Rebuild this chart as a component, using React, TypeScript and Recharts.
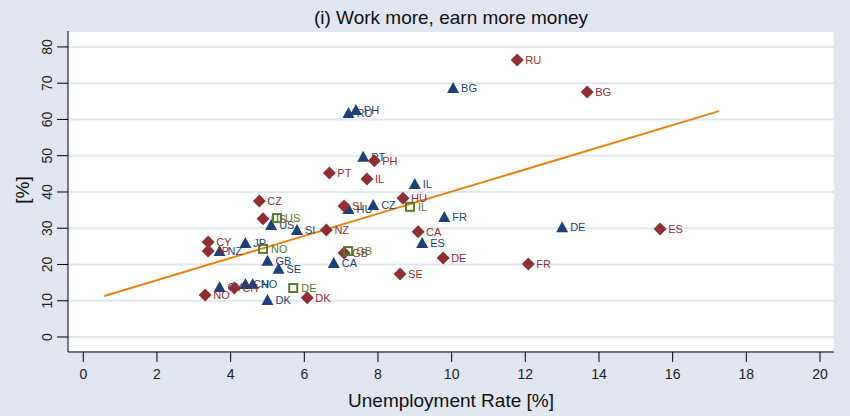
import { ScatterChart, Scatter, XAxis, YAxis, CartesianGrid } from 'recharts'

// navy triangles
const triLabels = ['BG', 'RU', 'PH', 'PT', 'IL', 'CZ', 'HU', 'FR', 'DE', 'ES', 'US', 'SI', 'JP', 'NZ', 'GB', 'SE', 'CA', 'CH', 'NO', 'CY', 'DK']
const triRate = [10.04, 7.2, 7.4, 7.6, 9.0, 7.87, 7.2, 9.8, 13.0, 9.2, 5.1, 5.8, 4.4, 3.7, 5.0, 5.3, 6.8, 4.4, 4.6, 3.7, 5.0]
const triShare = [68.7, 61.8, 62.6, 49.7, 42.2, 36.4, 35.3, 33.1, 30.3, 25.9, 30.9, 29.5, 25.9, 23.7, 21.0, 18.8, 20.4, 14.6, 14.6, 13.8, 10.2]

// maroon diamonds
const diaLabels = ['RU', 'BG', 'PH', 'PT', 'IL', 'HU', 'CZ', 'SI', 'US', 'NZ', 'CY', 'JP', 'GB', 'CA', 'DE', 'SE', 'ES', 'FR', 'NO', 'CH', 'DK']
const diaRate = [11.78, 13.68, 7.9, 6.68, 7.7, 8.68, 4.78, 7.08, 4.88, 6.6, 3.39, 3.39, 7.08, 9.09, 9.77, 8.6, 15.66, 12.08, 3.31, 4.1, 6.08]
const diaShare = [76.4, 67.6, 48.6, 45.2, 43.6, 38.3, 37.5, 36.1, 32.6, 29.5, 26.2, 23.7, 23.2, 29.0, 21.8, 17.4, 29.8, 20.1, 11.6, 13.5, 10.8]

// green hollow squares
const sqLabels = ['US', 'NO', 'GB', 'DE', 'IL']
const sqRate = [5.26, 4.88, 7.19, 5.7, 8.87]
const sqShare = [32.8, 24.3, 23.7, 13.5, 35.9]

// fitted line end points
const fitRate = [0.57, 17.26]
const fitShare = [11.3, 62.3]

const xTicks = [0, 2, 4, 6, 8, 10, 12, 14, 16, 18, 20]
const yTicks = [0, 10, 20, 30, 40, 50, 60, 70, 80]

const build = (labels: string[], xs: number[], ys: number[]) =>
  xs.map((x, i) => ({ x, y: ys[i], label: labels[i] }))

const triData = build(triLabels, triRate, triShare)
const diaData = build(diaLabels, diaRate, diaShare)
const sqData = build(sqLabels, sqRate, sqShare)
const fitData = fitRate.map((x, i) => ({ x, y: fitShare[i] }))

const NAVY = '#1f3f77'
const MAROON = '#8e2f36'
const GREEN = '#557a2e'
const ORANGE = '#e8820c'
const BG = '#e2e6f0'
const FONT = '"Liberation Sans", Arial, sans-serif'

function marker(kind: 'tri' | 'dia' | 'sq', color: string) {
  return (props: any) => {
    const { cx, cy, payload } = props
    let m
    if (kind === 'tri') {
      m = <polygon points={`${cx - 6},${cy + 5} ${cx + 6},${cy + 5} ${cx},${cy - 6}`} fill={color} />
    } else if (kind === 'dia') {
      m = <polygon points={`${cx},${cy - 6.5} ${cx + 6.5},${cy} ${cx},${cy + 6.5} ${cx - 6.5},${cy}`} fill={color} />
    } else {
      m = <rect x={cx - 4} y={cy - 4} width={8} height={8} fill="none" stroke={color} strokeWidth={2} />
    }
    return (
      <g>
        {m}
        <text x={cx + 8} y={cy} dy="0.36em" fontSize={11} fill={color} fontFamily={FONT}>
          {payload.label}
        </text>
      </g>
    )
  }
}

const YTick = (props: any) => {
  const { x, y, payload } = props
  return (
    <text x={x - 3} y={y} transform={`rotate(-90 ${x - 3} ${y})`} textAnchor="middle" fontSize={14} fill="#222" fontFamily={FONT}>
      {payload.value}
    </text>
  )
}

export default function App() {
  return (
    <div style={{ position: 'absolute', left: 0, top: 0, width: 850, height: 416, background: BG }}>
      <ScatterChart width={850} height={416} margin={{ top: 31, right: 16, left: 0, bottom: 0 }}>
        <CartesianGrid horizontal vertical={false} fill="#fff" stroke={BG} strokeWidth={2} />
        <XAxis
          type="number"
          dataKey="x"
          domain={[-0.415, 20.38]}
          ticks={xTicks}
          allowDataOverflow
          height={64}
          tickSize={10}
          tickMargin={7}
          stroke="#000"
          tick={{ fontSize: 14, fill: '#222', fontFamily: FONT }}
        />
        <YAxis
          type="number"
          dataKey="y"
          domain={[-4.14, 84.4]}
          ticks={yTicks}
          allowDataOverflow
          width={68}
          tickSize={11}
          stroke="#000"
          tick={<YTick />}
        />
        <Scatter data={fitData} line={{ stroke: ORANGE, strokeWidth: 2 }} shape={() => <g />} isAnimationActive={false} />
        <Scatter data={triData} shape={marker('tri', NAVY)} isAnimationActive={false} />
        <Scatter data={diaData} shape={marker('dia', MAROON)} isAnimationActive={false} />
        <Scatter data={sqData} shape={marker('sq', GREEN)} isAnimationActive={false} />
      </ScatterChart>
      <svg width={850} height={416} style={{ position: 'absolute', left: 0, top: 0, pointerEvents: 'none' }}>
        <text x={451} y={24} textAnchor="middle" fontSize={19} fill="#111" fontFamily={FONT}>
          (i) Work more, earn more money
        </text>
        <text x={451} y={407} textAnchor="middle" fontSize={19} fill="#111" fontFamily={FONT}>
          Unemployment Rate [%]
        </text>
        <text x={29} y={190} transform="rotate(-90 29 190)" textAnchor="middle" fontSize={19} fill="#111" fontFamily={FONT}>
          [%]
        </text>
      </svg>
    </div>
  )
}
